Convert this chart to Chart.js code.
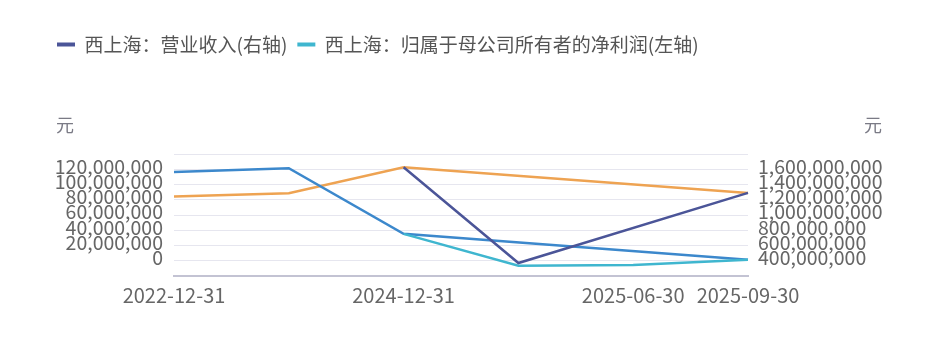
<!DOCTYPE html>
<html>
<head>
<meta charset="utf-8">
<script src="https://cdn.jsdelivr.net/npm/chart.js@4"></script>
<style>
  html, body { margin: 0; padding: 0; background: #ffffff; }
  #wrap { width: 937px; height: 339px; position: relative; }
</style>
</head>
<body>
<div id="wrap"><canvas id="c" width="937" height="339"></canvas></div>
<script>
// ---- data ----
const categories = ['2022-12-31', '2023-12-31', '2024-12-31', '2025-03-31', '2025-06-30', '2025-09-30'];
const shownXLabels = ['2022-12-31', '2024-12-31', '2025-06-30', '2025-09-30'];
const seriesNames = ['西上海：营业收入(右轴)', '西上海：归属于母公司所有者的净利润(左轴)'];
const revenue = [null, null, 1627e6, 370e6, null, 1290e6];          // right axis
const netProfit = [null, null, 35.3e6, -6.5e6, -5.7e6, 1.3e6];       // left axis
const ghostProfit = [116.5e6, 121.3e6, 35.3e6, null, null, 1.3e6];   // left axis (unlabelled trace)
const ghostRevenue = [1242e6, 1286e6, 1627e6, null, null, 1290e6];   // right axis (unlabelled trace)
const leftTicks = [0, 20e6, 40e6, 60e6, 80e6, 100e6, 120e6];
const rightTicks = [400e6, 600e6, 800e6, 1000e6, 1200e6, 1400e6, 1600e6];
const unitLabel = '元';

const FONT = "'Noto Sans CJK SC', 'Liberation Sans', sans-serif";
const fmt = v => Math.round(v).toLocaleString('en-US');

const unitPlugin = {
  id: 'unitLabels',
  afterDraw(chart) {
    const ctx = chart.ctx;
    ctx.save();
    ctx.font = '18px ' + FONT;
    ctx.fillStyle = '#7a7a85';
    ctx.textBaseline = 'middle';
    ctx.textAlign = 'left';
    ctx.fillText(unitLabel, 56, 125);
    ctx.fillText(unitLabel, 864, 125);
    ctx.restore();
  }
};

new Chart(document.getElementById('c'), {
  type: 'line',
  data: {
    labels: categories,
    datasets: [
      { label: seriesNames[0], data: revenue, yAxisID: 'yR', borderColor: '#4b5598', backgroundColor: '#4b5598', borderWidth: 2.5, pointRadius: 0, tension: 0, spanGaps: true },
      { label: seriesNames[1], data: netProfit, yAxisID: 'yL', borderColor: '#3fb6cf', backgroundColor: '#3fb6cf', borderWidth: 2.5, pointRadius: 0, tension: 0, spanGaps: true },
      { label: '_ghost1', data: ghostProfit, yAxisID: 'yL', borderColor: '#3c88cc', backgroundColor: '#3c88cc', borderWidth: 2.5, pointRadius: 0, tension: 0, spanGaps: true },
      { label: '_ghost2', data: ghostRevenue, yAxisID: 'yR', borderColor: '#eea352', backgroundColor: '#eea352', borderWidth: 2.5, pointRadius: 0, tension: 0, spanGaps: true }
    ]
  },
  options: {
    responsive: false,
    animation: false,
    layout: { padding: { top: 25, left: 47, right: 0, bottom: 0 } },
    plugins: {
      tooltip: { enabled: false },
      title: {
        display: true, text: ' ', weight: 500,
        font: { size: 1, lineHeight: 1 }, padding: { top: 0, bottom: 89 }
      },
      legend: {
        display: true, position: 'top', align: 'start',
        labels: {
          boxWidth: 18, boxHeight: 4, padding: 10,
          color: '#555555',
          font: { family: FONT, size: 19 },
          generateLabels(chart) {
            const items = Chart.defaults.plugins.legend.labels.generateLabels(chart);
            return items.filter(it => it.datasetIndex < 2).map(it => {
              it.lineWidth = 0; it.fillStyle = it.strokeStyle; return it;
            });
          }
        }
      }
    },
    scales: {
      x: {
        type: 'category',
        offset: false,
        afterFit(s) { s.height = 63; },
        grid: { display: false, drawTicks: false },
        border: { display: true, color: '#c3c3d3', width: 2 },
        ticks: {
          autoSkip: false, maxRotation: 0, minRotation: 0, padding: 7,
          color: '#666666', font: { family: FONT, size: 20 },
          callback(v, i) { const l = categories[i]; return shownXLabels.includes(l) ? l : ''; }
        }
      },
      yL: {
        position: 'left',
        min: -20e6, max: 140e6,
        afterFit(s) { s.width = 127; },
        afterBuildTicks(s) { s.ticks = []; for (let v = -20e6; v <= 140e6; v += 20e6) s.ticks.push({ value: v }); },
        grid: { color: '#e6e6ef', lineWidth: 1, drawTicks: false },
        border: { display: false },
        ticks: {
          autoSkip: false, padding: 11, labelOffset: -3,
          color: '#666666', font: { family: FONT, size: 19.5 },
          callback(v) { return leftTicks.includes(v) ? fmt(v) : ''; }
        }
      },
      yR: {
        position: 'right',
        min: 200e6, max: 1800e6,
        afterFit(s) { s.width = 189; },
        afterBuildTicks(s) { s.ticks = []; for (let v = 200e6; v <= 1800e6; v += 200e6) s.ticks.push({ value: v }); },
        grid: { drawOnChartArea: false, drawTicks: false },
        border: { display: false },
        ticks: {
          autoSkip: false, padding: 10, labelOffset: -3,
          color: '#666666', font: { family: FONT, size: 19.5 },
          callback(v) { return rightTicks.includes(v) ? fmt(v) : ''; }
        }
      }
    }
  },
  plugins: [unitPlugin]
});
</script>
</body>
</html>
